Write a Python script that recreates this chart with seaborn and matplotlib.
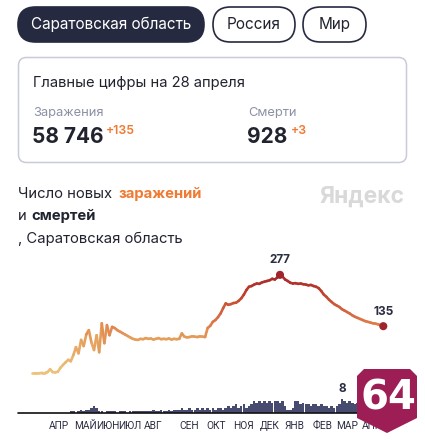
import numpy as np
import pandas as pd
import seaborn as sns
import matplotlib.pyplot as plt
import matplotlib.dates as mdates
from matplotlib.collections import LineCollection
from matplotlib.colors import LinearSegmentedColormap
from matplotlib.patches import FancyBboxPatch, Polygon

# новые заражения, шаг 3 дня с 16 марта 2020
cases = [5, 5, 4, 5, 6, 6, 8, 16, 8, 7,
         9, 20, 28, 35, 42, 38, 55, 77, 60, 97,
         80, 112, 124, 90, 69, 110, 63, 143, 88, 138,
         110, 133, 130, 124, 120, 116, 112, 108, 104, 100,
         98, 97, 100, 99, 102, 100, 101, 98, 100, 102,
         99, 100, 99, 101, 98, 100, 99, 100, 115, 106,
         104, 105, 107, 106, 105, 107, 106, 105, 130, 136,
         147, 152, 160, 170, 185, 198, 194, 196, 199, 200,
         205, 212, 222, 235, 244, 246, 250, 253, 252, 256,
         258, 260, 262, 266, 264, 270, 277, 272, 264, 260,
         255, 253, 254, 252, 253, 251, 250, 248, 249, 246,
         244, 240, 232, 222, 216, 208, 202, 196, 192, 188,
         182, 178, 174, 170, 165, 161, 158, 155, 152, 149,
         147, 145, 143, 142, 140, 138, 135]

# смерти
deaths = [0, 0, 0, 0, 0, 0, 0, 0, 0, 0,
          0, 0, 0, 0, 0, 1, 1, 0, 1, 2,
          1, 2, 2, 3, 4, 3, 1, 1, 0, 1,
          1, 1, 1, 0, 1, 1, 1, 0, 1, 1,
          1, 1, 1, 1, 1, 1, 1, 2, 1, 1,
          2, 1, 1, 2, 1, 2, 2, 2, 3, 2,
          2, 3, 2, 2, 3, 2, 3, 2, 3, 2,
          3, 2, 3, 3, 2, 3, 4, 3, 4, 5,
          3, 4, 5, 3, 4, 5, 7, 6, 7, 6,
          7, 6, 7, 6, 7, 7, 6, 7, 4, 2,
          2, 3, 7, 7, 5, 6, 5, 5, 4, 5,
          5, 4, 5, 4, 4, 3, 4, 3, 4, 5,
          8, 7, 6, 7, 6, 5, 6, 5, 5, 6,
          5, 5, 4, 5, 4, 5, 3]

month_dates = ['2020-04-16', '2020-05-17', '2020-06-12', '2020-07-08', '2020-08-04',
               '2020-09-15', '2020-10-16', '2020-11-17', '2020-12-17', '2021-01-15',
               '2021-02-16', '2021-03-17', '2021-04-15']
month_labels = ['АПР', 'МАЙ', 'ИЮН', 'ИЮЛ', 'АВГ', 'СЕН', 'ОКТ', 'НОЯ', 'ДЕК',
                'ЯНВ', 'ФЕВ', 'МАР', 'АПР']

dates = pd.date_range('2020-03-16', periods=len(cases), freq='3D')
df = pd.DataFrame({'date': dates, 'cases': cases, 'deaths': deaths})
df['x'] = mdates.date2num(df['date'])

sns.set_theme(style='white')
plt.rcParams['font.family'] = ['Inter', 'DejaVu Sans']

W, H = 425, 440
fig = plt.figure(figsize=(W / 100, H / 100), dpi=100)


def box(x0, y0, x1, y1):
    return [x0 / W, 1 - y1 / H, (x1 - x0) / W, (y1 - y0) / H]


x_start = df['x'].iloc[0]
xlim = (x_start - 16.3, x_start + 427.4)

# линия заражений
ax = fig.add_axes(box(18, 260, 400, 375))
ax.set_xlim(*xlim)
ax.set_ylim(0, 318)

cmap = LinearSegmentedColormap.from_list('yx', [
    (0.0, '#eec47e'), (0.35, '#e5a15d'), (0.5, '#df7d4b'),
    (0.7, '#cd5738'), (0.85, '#b93b2c'), (1.0, '#a6282b')])
pts = np.column_stack([df['x'], df['cases']])
segs = np.stack([pts[:-1], pts[1:]], axis=1)
vals = (df['cases'].values[:-1] + df['cases'].values[1:]) / 2
lc = LineCollection(segs, cmap=cmap, norm=plt.Normalize(0, 277), linewidth=1.9,
                    capstyle='round', joinstyle='round')
lc.set_array(vals)
ax.add_collection(lc)

i_max = df['cases'].idxmax()
marks = df.loc[[i_max, len(df) - 1]]
sns.scatterplot(data=marks, x='x', y='cases', ax=ax, s=34, color='#a0242c',
                edgecolor='none', zorder=5, clip_on=False, legend=False)
ax.axis('off')
for _, r in marks.iterrows():
    ax.annotate(str(int(r['cases'])), (r['x'], r['cases']), xytext=(0, 6),
                textcoords='offset points', ha='center', va='bottom',
                fontsize=8.5, fontweight='bold', color='#2b2d42')

# столбцы смертей
bx = fig.add_axes(box(18, 383, 400, 413))
bx.bar(df['x'], df['deaths'], width=2.9, color='#474b70', linewidth=0)
bx.set_xlim(*xlim)
bx.set_ylim(0, 17.6)
bx.axhline(0, color='#111111', lw=1.2, clip_on=False)
sns.despine(ax=bx, left=True, bottom=True)
bx.set_yticks([])
bx.set_xticks(mdates.date2num(pd.to_datetime(month_dates)))
bx.set_xticklabels(month_labels, fontsize=7.3, color='#2b2d42', family=['Roboto', 'DejaVu Sans'])
bx.tick_params(axis='x', length=0, pad=6)
bx.set_facecolor('none')
i_d = df['deaths'].idxmax()
bx.annotate(str(df['deaths'].max()), (df['x'][i_d], df['deaths'][i_d]), xytext=(0, 3),
            textcoords='offset points', ha='center', va='bottom',
            fontsize=8.5, fontweight='bold', color='#2b2d42', annotation_clip=False)

# всё остальное в пикселях
ov = fig.add_axes([0, 0, 1, 1])
ov.set_xlim(0, W)
ov.set_ylim(H, 0)
ov.axis('off')
ov.set_facecolor('none')

dark = '#262a40'
ov.add_patch(FancyBboxPatch((18, 7), 186, 35, boxstyle='round,pad=0,rounding_size=17.5',
                            fc=dark, ec=dark, lw=1.2))
ov.add_patch(FancyBboxPatch((213, 7), 82, 35, boxstyle='round,pad=0,rounding_size=17.5',
                            fc='white', ec=dark, lw=1.2))
ov.add_patch(FancyBboxPatch((303, 7), 63, 35, boxstyle='round,pad=0,rounding_size=17.5',
                            fc='white', ec=dark, lw=1.2))
ov.text(111, 29, 'Саратовская область', ha='center', va='baseline', fontsize=11, color='white')
ov.text(254, 29, 'Россия', ha='center', va='baseline', fontsize=11, color='#21232f')
ov.text(334.5, 29, 'Мир', ha='center', va='baseline', fontsize=11, color='#21232f')

ov.add_patch(FancyBboxPatch((18.5, 57.5), 388, 105, boxstyle='round,pad=0,rounding_size=8',
                            fc='white', ec='#c9cbd8', lw=1.1))
ov.text(33, 87, 'Главные цифры на 28 апреля', va='baseline', fontsize=10.6, color='#21232f')
ov.text(33, 116, 'Заражения', va='baseline', fontsize=9.3, color='#8d91a6')
ov.text(248, 116, 'Смерти', va='baseline', fontsize=9.3, color='#8d91a6')
ov.text(32, 143, '58 746', va='baseline', fontsize=15, fontweight='bold', color='#21232f')
ov.text(106, 134, '+135', va='baseline', fontsize=8.8, fontweight='semibold', color='#f07a32')
ov.text(247, 143, '928', va='baseline', fontsize=15, fontweight='bold', color='#21232f')
ov.text(291, 134, '+3', va='baseline', fontsize=8.8, fontweight='semibold', color='#f07a32')

ov.text(18, 198, 'Число новых ', va='baseline', fontsize=10.7, color='#21232f')
ov.text(118, 198, 'заражений', va='baseline', fontsize=10.7, fontweight='bold', color='#f07a32')
ov.text(18, 220, 'и ', va='baseline', fontsize=10.7, color='#21232f')
ov.text(31, 220, 'смертей', va='baseline', fontsize=10.7, fontweight='bold', color='#21232f')
ov.text(18, 243, ', Саратовская область', va='baseline', fontsize=10.7, color='#21232f')
ov.text(319, 203, 'Яндекс', va='baseline', fontsize=16.5, fontweight='bold', color='#d9d9d9')

# значок 64
shield = [(364, 369), (410, 369), (417, 376), (417, 418), (387, 433), (357, 418), (357, 376)]
ov.add_patch(Polygon(shield, closed=True, fc='#9c1e55', ec='none', zorder=10))
ov.text(388, 398, '64', ha='center', va='center', fontsize=29, fontweight='bold',
        color='white', zorder=11, family=['DejaVu Sans'])

fig.savefig('out.png', dpi=100)
